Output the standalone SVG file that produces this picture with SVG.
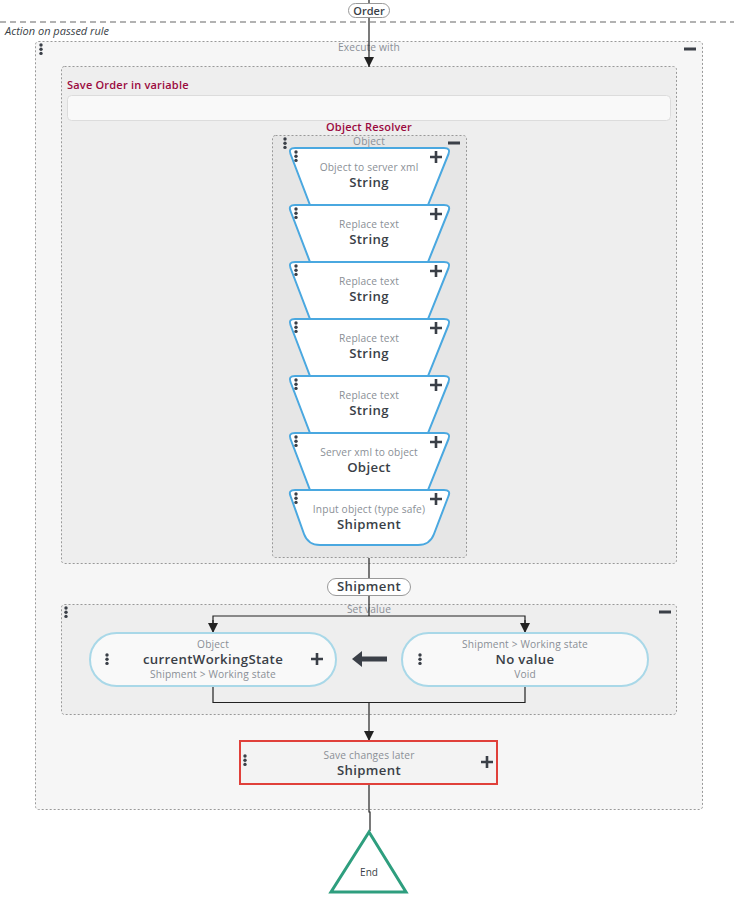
<svg xmlns="http://www.w3.org/2000/svg" width="734" height="905" viewBox="0 0 734 905">
<defs>
<style>
text{font-family:"Open Sans","Noto Sans",sans-serif;}
.lbl{font-size:10.2px;fill:#8a8f96;text-anchor:middle;letter-spacing:0.15px;}
.val{font-size:13.2px;fill:#3a3f47;text-anchor:middle;font-weight:600;letter-spacing:0.35px;}
.crim{font-size:11px;fill:#9b0a3e;font-weight:600;letter-spacing:0.2px;}
.box{stroke:#999;stroke-width:1;stroke-dasharray:2,2;}
.trap{fill:#fff;stroke:#4aa8e0;stroke-width:2;}
.pill{fill:#f9f9f9;stroke:#a9d8e8;stroke-width:2;}
.ln{stroke:#222;stroke-width:1.2;fill:none;}
.ic{stroke:#3a3f47;stroke-width:2.6;fill:none;}
.dot{fill:#3a3f47;}
</style>
<marker id="ah" markerWidth="10" markerHeight="10" refX="10" refY="5" orient="auto" markerUnits="userSpaceOnUse" viewBox="0 0 10 10">
<path d="M0,0 L10,5 L0,10 Z" fill="#222"/>
</marker>
<g id="kebab"><circle cx="0" cy="0" r="1.7" class="dot"/><circle cx="0" cy="4.2" r="1.7" class="dot"/><circle cx="0" cy="8.4" r="1.7" class="dot"/></g>
<path id="plus" d="M-6,0 H6 M0,-6 V6" class="ic"/>
<path id="minus" d="M-6,0 H6" class="ic" style="stroke-width:3"/>
</defs>
<rect width="734" height="905" fill="#fff"/>

<g id="rule">
<line x1="0" y1="22" x2="734" y2="22" stroke="#999" stroke-width="1.5" stroke-dasharray="6,4"/>
<text x="5" y="35" font-size="11" font-style="italic" fill="#3a3f47">Action on passed rule</text>
</g>

<g id="execute-with">
<rect x="35.5" y="41.5" width="667" height="768" rx="3" fill="#f6f6f6" class="box"/>
<text x="369" y="51" class="lbl">Execute with</text>
<use href="#kebab" x="41" y="45"/>
<use href="#minus" x="690" y="49"/>
</g>

<g id="save-order">
<rect x="61.5" y="66.5" width="615" height="497" rx="3" fill="#eeeeee" class="box"/>
<text x="67" y="89" class="crim">Save Order in variable</text>
<rect x="67.5" y="95.5" width="603" height="25" rx="4" fill="#f9f9f9" stroke="#dcdcdc"/>
<text x="369" y="131" class="crim" text-anchor="middle">Object Resolver</text>
</g>

<g id="object-container">
<rect x="272.5" y="135.5" width="194" height="422" rx="3" fill="#e6e6e6" class="box"/>
<text x="369" y="145" class="lbl">Object</text>
<use href="#kebab" x="285" y="139"/>
<use href="#minus" x="454" y="143"/>
</g>

<g id="n1">
<path class="trap" d="M295,148 H444 Q451,148 448.5,154 L428,205 H310 L290.5,154 Q288,148 295,148 Z"/>
<use href="#kebab" x="296" y="152"/>
<use href="#plus" x="436" y="157"/>
<text x="369" y="170.5" class="lbl">Object to server xml</text>
<text x="369" y="186.5" class="val">String</text>
</g>
<g id="n2">
<path class="trap" d="M295,205 H444 Q451,205 448.5,211 L428,262 H310 L290.5,211 Q288,205 295,205 Z"/>
<use href="#kebab" x="296" y="209"/>
<use href="#plus" x="436" y="214"/>
<text x="369" y="227.5" class="lbl">Replace text</text>
<text x="369" y="243.5" class="val">String</text>
</g>
<g id="n3">
<path class="trap" d="M295,262 H444 Q451,262 448.5,268 L428,319 H310 L290.5,268 Q288,262 295,262 Z"/>
<use href="#kebab" x="296" y="266"/>
<use href="#plus" x="436" y="271"/>
<text x="369" y="284.5" class="lbl">Replace text</text>
<text x="369" y="300.5" class="val">String</text>
</g>
<g id="n4">
<path class="trap" d="M295,319 H444 Q451,319 448.5,325 L428,376 H310 L290.5,325 Q288,319 295,319 Z"/>
<use href="#kebab" x="296" y="323"/>
<use href="#plus" x="436" y="328"/>
<text x="369" y="341.5" class="lbl">Replace text</text>
<text x="369" y="357.5" class="val">String</text>
</g>
<g id="n5">
<path class="trap" d="M295,376 H444 Q451,376 448.5,382 L428,433 H310 L290.5,382 Q288,376 295,376 Z"/>
<use href="#kebab" x="296" y="380"/>
<use href="#plus" x="436" y="385"/>
<text x="369" y="398.5" class="lbl">Replace text</text>
<text x="369" y="414.5" class="val">String</text>
</g>
<g id="n6">
<path class="trap" d="M295,433 H444 Q451,433 448.5,439 L428,490 H310 L290.5,439 Q288,433 295,433 Z"/>
<use href="#kebab" x="296" y="437"/>
<use href="#plus" x="436" y="442"/>
<text x="369" y="455.5" class="lbl">Server xml to object</text>
<text x="369" y="471.5" class="val">Object</text>
</g>
<g id="n7">
<path class="trap" d="M295,490 H444 Q451,490 448.5,496 L434,534 Q430,545 418,545 H320 Q308,545 304,534 L290.5,496 Q288,490 295,490 Z"/>
<use href="#kebab" x="296" y="494"/>
<use href="#plus" x="436" y="499"/>
<text x="369" y="512.5" class="lbl">Input object (type safe)</text>
<text x="369" y="528.5" class="val">Shipment</text>
</g>

<g id="set-value">
<rect x="61.5" y="604.5" width="615" height="110" rx="3" fill="#eeeeee" class="box"/>
<text x="369" y="613" class="lbl">Set value</text>
<use href="#kebab" x="66" y="608"/>
<use href="#minus" x="665" y="612"/>
</g>

<g id="connectors">
<line class="ln" x1="369" y1="0" x2="369" y2="67" marker-end="url(#ah)"/>
<line class="ln" x1="369" y1="558" x2="369" y2="578"/>
<line class="ln" x1="369" y1="595" x2="369" y2="616"/>
<path class="ln" d="M213,625 V616 H525 V625"/>
<line class="ln" x1="213" y1="620" x2="213" y2="633" marker-end="url(#ah)"/>
<line class="ln" x1="525" y1="620" x2="525" y2="633" marker-end="url(#ah)"/>
<path class="ln" d="M213,686 V702.5 H525 V686"/>
<line class="ln" x1="369" y1="702" x2="369" y2="741" marker-end="url(#ah)"/>
<path class="ln" d="M369,784 V812 H370 V831"/>
</g>

<g id="order-pill">
<rect x="348.5" y="3.5" width="41" height="14" rx="7" fill="#fff" stroke="#999"/>
<text x="369" y="14.5" font-size="11" fill="#3a3f47" text-anchor="middle" font-weight="600">Order</text>
</g>

<g id="shipment-pill">
<rect x="327.5" y="578.5" width="83" height="17" rx="8.5" fill="#fff" stroke="#999"/>
<text x="369" y="591" class="val">Shipment</text>
</g>

<g id="target">
<rect class="pill" x="90" y="633" width="246" height="53" rx="26.5"/>
<use href="#kebab" x="107" y="655"/>
<use href="#plus" x="317" y="659"/>
<text x="213" y="648" class="lbl">Object</text>
<text x="213" y="664" class="val" font-weight="500">currentWorkingState</text>
<text x="213" y="677.5" class="lbl">Shipment &gt; Working state</text>
</g>

<g id="assign-arrow">
<path d="M352,659 L362,651 V656.5 H387 V661.5 H362 V667 Z" fill="#3a3f47"/>
</g>

<g id="source">
<rect class="pill" x="402" y="633" width="246" height="53" rx="26.5"/>
<use href="#kebab" x="420" y="655"/>
<text x="525" y="648" class="lbl">Shipment &gt; Working state</text>
<text x="525" y="664" class="val" font-weight="500">No value</text>
<text x="525" y="677.5" class="lbl">Void</text>
</g>

<g id="save-changes">
<rect x="240" y="741" width="257" height="43" fill="#f3f3f3" stroke="#e0403a" stroke-width="2"/>
<use href="#kebab" x="245" y="756"/>
<use href="#plus" x="487" y="762"/>
<text x="369" y="758.5" class="lbl">Save changes later</text>
<text x="369" y="774.5" class="val">Shipment</text>
</g>

<g id="end">
<path d="M369,832 L406,892 H331 Z" fill="#fff" stroke="#2e9e7e" stroke-width="3" stroke-linejoin="miter"/>
<text x="369" y="876" font-size="10" fill="#3a3f47" text-anchor="middle">End</text>
</g>
</svg>
